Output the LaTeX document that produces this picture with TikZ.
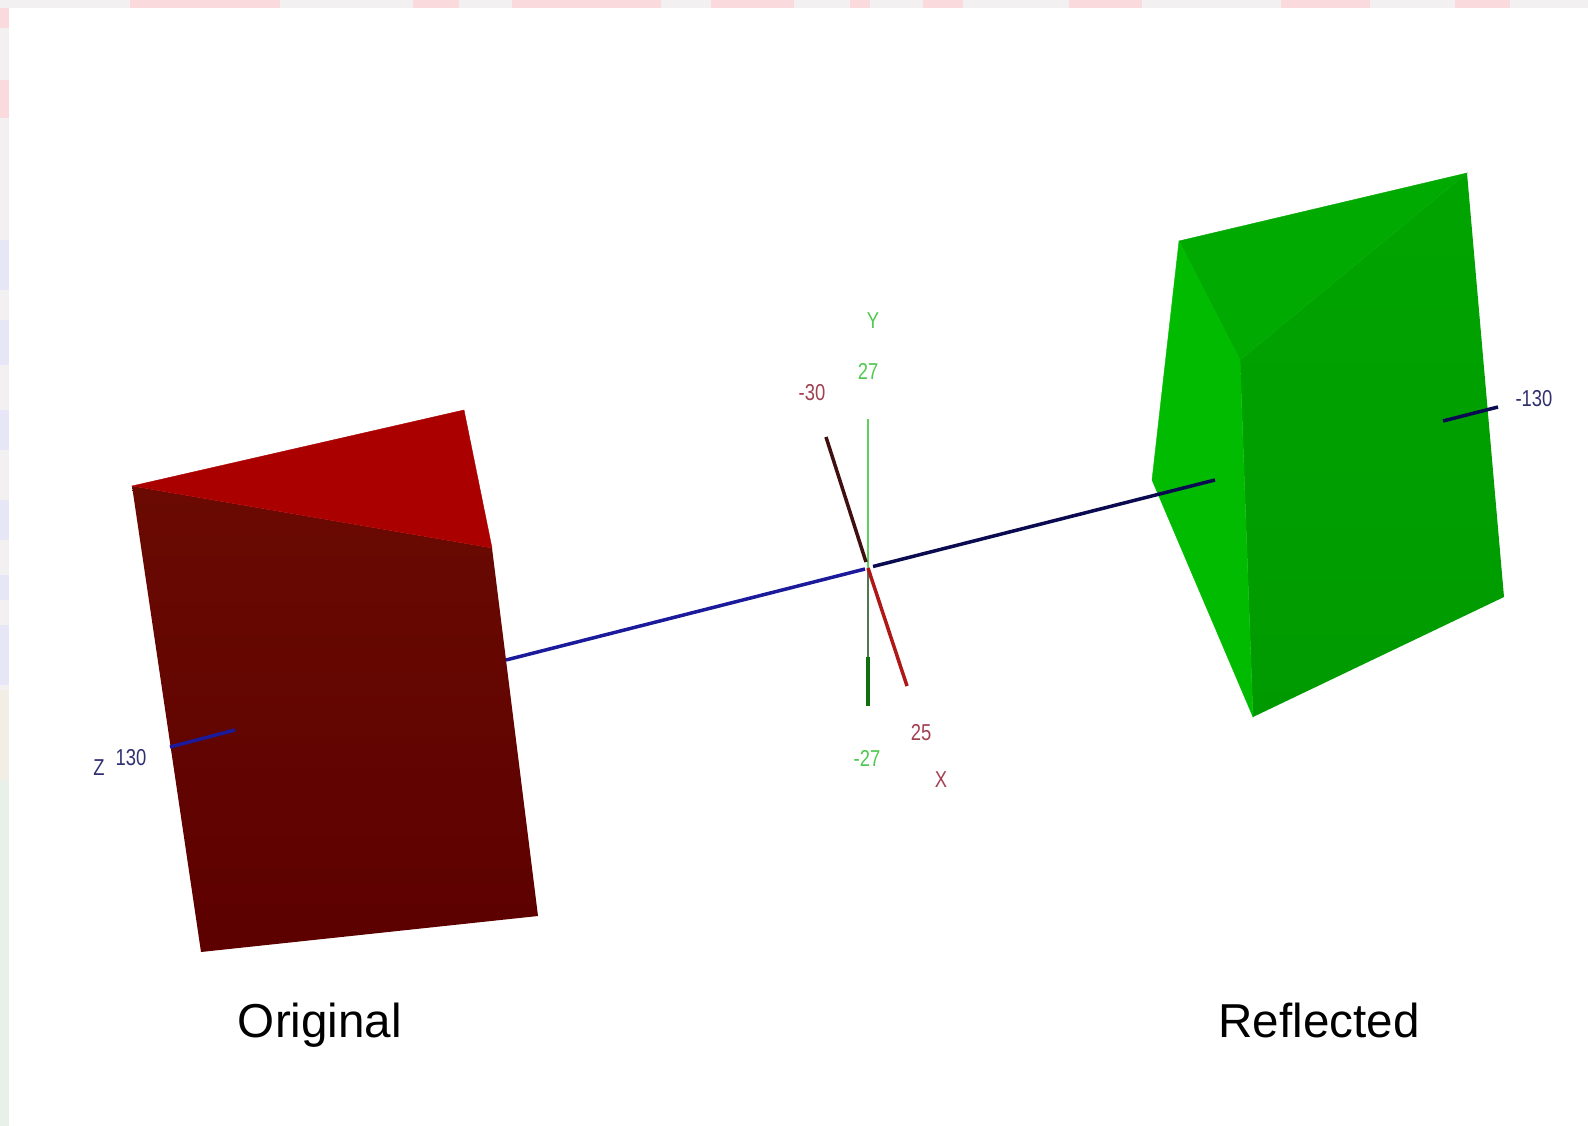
\documentclass[tikz,border=0pt]{standalone}
\usepackage{fontspec}
\setmainfont{Liberation Sans}
\newfontfamily\axisfont[FakeStretch=0.8]{Liberation Sans}
\definecolor{redtop}{HTML}{AA0000}
\definecolor{redfront}{HTML}{6A0A02}
\definecolor{redlow}{HTML}{5C0000}
\definecolor{greenleft}{HTML}{00BB00}
\definecolor{greentop}{HTML}{00AA00}
\definecolor{greenright}{HTML}{00A400}
\definecolor{greenlow}{HTML}{009A00}
\definecolor{axisred}{HTML}{B01818}
\definecolor{axismaroon}{HTML}{401010}
\definecolor{axisgreen}{HTML}{60D060}
\definecolor{axisgrey}{HTML}{507850}
\definecolor{axisdark}{HTML}{107010}
\definecolor{axisblue}{HTML}{1A1A9A}
\definecolor{axisnavy}{HTML}{0A0A50}
\definecolor{labelred}{HTML}{A04050}
\definecolor{labelgreen}{HTML}{50C850}
\definecolor{labelblue}{HTML}{303070}
\definecolor{edgepale}{HTML}{F3F0F2}
\definecolor{edgepink}{HTML}{FADADD}
\definecolor{edgelav}{HTML}{E6E6F6}
\definecolor{edgesand}{HTML}{F2EEE6}
\definecolor{edgemint}{HTML}{E8F0EA}

\begin{document}
\begin{tikzpicture}[x=1pt, y=-1pt,
    axis/.style={line width=3.5pt},
    tick/.style={inner sep=0pt, font=\axisfont\fontsize{23}{23}\selectfont},
    caption/.style={inner sep=0pt, anchor=base, font=\fontsize{47.6}{48}\selectfont}]

    \useasboundingbox (0,0) rectangle (1588,1126);

    % Slide edge
    \fill[edgepink] (0,0) rectangle (1588,8);
    \foreach \xa/\xb in {0/130,280/413,459/512,661/711,794/850,870/923,963/1069,1142/1281,1370/1455,1510/1588}
        \fill[edgepale] (\xa,0) rectangle (\xb,8);
    \fill[edgepale] (0,0) rectangle (9,1126);
    \foreach \ya/\yb/\col in {8/28/edgepink,80/118/edgepink,240/290/edgelav,320/365/edgelav,
        410/450/edgelav,500/540/edgelav,575/600/edgelav,625/685/edgelav,690/780/edgesand,780/1126/edgemint}
        \fill[\col] (0,\ya) rectangle (9,\yb);

    % Original
    \coordinate (ra) at (132,486);
    \coordinate (rb) at (464,410);
    \coordinate (rc) at (492,548);
    \coordinate (rd) at (538,916);
    \coordinate (re) at (201,952);
    \path[top color=redfront, bottom color=redlow] (ra) -- (rc) -- (rd) -- (re) -- cycle;
    \filldraw[redtop, line width=0.4pt] (ra) -- (rb) -- (rc) -- cycle;

    % Reflected
    \coordinate (ga) at (1179,241);
    \coordinate (gb) at (1467,173);
    \coordinate (gc) at (1504,597);
    \coordinate (gd) at (1253,717);
    \coordinate (ge) at (1152,480);
    \coordinate (gf) at (1240,360);
    \path[top color=greenright, bottom color=greenlow] (gb) -- (gc) -- (gd) -- (gf) -- cycle;
    \filldraw[greentop, line width=0.4pt] (ga) -- (gb) -- (gf) -- cycle;
    \filldraw[greenleft, line width=0.4pt] (ga) -- (gf) -- (gd) -- (ge) -- cycle;

    % Axes
    \coordinate (o) at (868,568);
    \coordinate (ytop) at (868,419);
    \coordinate (ymid) at (868,657);
    \coordinate (ybot) at (868,706);
    \coordinate (xneg) at (826,437);
    \coordinate (xnear) at (866,562);
    \coordinate (xpos) at (907,686);
    \coordinate (zin) at (506,660);
    \coordinate (zleft) at (865,569);
    \coordinate (zright) at (873,566.5);
    \coordinate (zout) at (1215,480);
    \coordinate (zna) at (1443,421);
    \coordinate (znb) at (1498,407);
    \coordinate (zpa) at (170,747);
    \coordinate (zpb) at (235,730);

    \draw[axisgreen, line width=1.5pt] (ytop) -- (o);
    \draw[axisgrey, line width=1.5pt] (o) -- (ymid);
    \draw[axisdark, axis] (ymid) -- (ybot);
    \draw[axismaroon, axis] (xneg) -- (xnear);
    \draw[axisred, axis] (o) -- (xpos);
    \draw[axisblue, axis] (zin) -- (zleft);
    \draw[axisnavy, axis] (zright) -- (zout);
    \draw[axisnavy, axis] (zna) -- (znb);
    \draw[axisblue, axis] (zpa) -- (zpb);

    % Labels
    \node[tick, text=labelgreen] (ylabel) at (873,321) {Y};
    \node[tick, text=labelgreen] (ymax) at (868,371) {27};
    \node[tick, text=labelgreen] (ymin) at (867,758) {-27};
    \node[tick, text=labelred] (xmin) at (812,393) {-30};
    \node[tick, text=labelred] (xmax) at (921,733) {25};
    \node[tick, text=labelred] (xlabel) at (941,780) {X};
    \node[tick, text=labelblue] (zlabel) at (99,768) {Z};
    \node[tick, text=labelblue] (zmax) at (131,758) {130};
    \node[tick, text=labelblue] (zmin) at (1534,399) {-130};

    \node[caption] (original) at (320,1037) {Original};
    \node[caption] (reflected) at (1319,1037) {Reflected};
\end{tikzpicture}
\end{document}
